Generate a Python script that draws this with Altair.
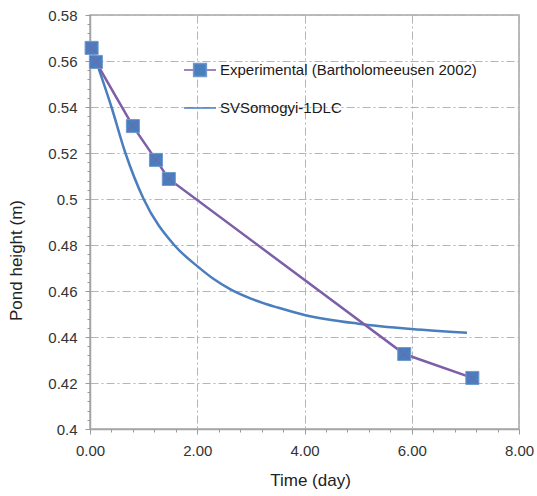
import altair as alt
import pandas as pd

exp_label = "Experimental (Bartholomeeusen 2002)"
marker_key = "Experimental markers"
model_label = "SVSomogyi-1DLC"

exp_day = [0.03, 0.11, 0.80, 1.23, 1.47, 5.86, 7.13]
exp_h = [0.5657, 0.5596, 0.5317, 0.5170, 0.5087, 0.4326, 0.4222]

model_day = [0.12, 0.40, 0.66, 1.00, 1.57, 2.00, 2.30, 2.62, 3.00, 3.50, 4.00, 5.00,
             6.00, 7.03]
model_h = [0.5595, 0.5400, 0.5200, 0.5000, 0.4800, 0.4708, 0.4653, 0.4607, 0.4567,
           0.4528, 0.4496, 0.4458, 0.4435, 0.4419]

x_ticks = [0, 2, 4, 6, 8]
x_minor = [0.4, 0.8, 1.2, 1.6, 2.4, 2.8, 3.2, 3.6, 4.4, 4.8, 5.2, 5.6, 6.4, 6.8, 7.2, 7.6]
y_ticks = [0.40, 0.42, 0.44, 0.46, 0.48, 0.50, 0.52, 0.54, 0.56, 0.58]
y_minor = [round(0.40 + 0.004 * i, 3) for i in range(46)]

df_exp = pd.DataFrame({"day": exp_day, "h": exp_h, "series": exp_label, "mk": marker_key})
df_mod = pd.DataFrame({"day": model_day, "h": model_h, "series": model_label})

FONT = "Liberation Sans"
PURPLE = "#7d5ea8"
BLUE = "#4a7ebd"
GRID_DASH = [8, 3, 2, 3]

x_scale = alt.Scale(domain=[0, 8], nice=False, zero=False)
y_scale = alt.Scale(domain=[0.4, 0.58], nice=False, zero=False)

x_main = alt.Axis(values=x_ticks, format=".2f", title="Time (day)", orient="bottom",
                  grid=True, gridColor="#b5b5b5", gridDash=GRID_DASH, gridWidth=1,
                  tickSize=5, tickColor="#9a9a9a", domainColor="#a6a6a6", domainWidth=1.5,
                  labelFont=FONT, labelFontSize=15, labelColor="#333333", labelPadding=9,
                  labelFlush=False, labelOverlap=False,
                  titleFont=FONT, titleFontSize=17, titleFontWeight="normal",
                  titleColor="#222222", titleX=220, titleY=56, titleBaseline="alphabetic")
y_main = alt.Axis(values=y_ticks, format=".2~f", title="Pond height (m)", orient="left",
                  grid=True, gridColor="#b5b5b5", gridDash=GRID_DASH, gridWidth=1,
                  tickSize=5, tickColor="#9a9a9a", domainColor="#a6a6a6", domainWidth=1.5,
                  labelFont=FONT, labelFontSize=15, labelColor="#333333", labelPadding=8,
                  labelFlush=False, labelOverlap=False,
                  titleFont=FONT, titleFontSize=17, titleFontWeight="normal",
                  titleColor="#222222", titleX=-69, titleY=245, titleAngle=270,
                  titleBaseline="alphabetic", titleAlign="center")
x_min_axis = alt.Axis(values=x_minor, orient="bottom", labels=False, grid=False,
                      domain=False, tickSize=3, tickColor="#9a9a9a", title=None)
y_min_axis = alt.Axis(values=y_minor, orient="left", labels=False, grid=False,
                      domain=False, tickSize=3, tickColor="#9a9a9a", title=None)

leg_common = dict(orient="none", title=None, padding=0, offset=0, labelFont=FONT,
                  labelFontSize=15, labelColor="#1a1a1a", labelOffset=3, labelLimit=400,
                  symbolSize=1024)

model_line = alt.Chart(df_mod).mark_line(strokeWidth=2.5, interpolate="monotone").encode(
    x=alt.X("day:Q", scale=x_scale, axis=x_main),
    y=alt.Y("h:Q", scale=y_scale, axis=y_main),
    stroke=alt.Stroke("series:N", scale=alt.Scale(domain=[model_label], range=[BLUE]),
                      legend=alt.Legend(legendX=93, legendY=76, symbolType="stroke",
                                        **leg_common)),
)

exp_line = alt.Chart(df_exp).mark_line(strokeWidth=2.5).encode(
    x=alt.X("day:Q", scale=x_scale, axis=x_min_axis),
    y=alt.Y("h:Q", scale=y_scale, axis=y_min_axis),
    color=alt.Color("series:N", scale=alt.Scale(domain=[exp_label], range=[PURPLE]),
                    legend=alt.Legend(legendX=93, legendY=38, symbolType="stroke",
                                      **leg_common)),
)

exp_pts = alt.Chart(df_exp).mark_point(shape="square", filled=True, size=170, opacity=1,
                                       stroke="#6f9ad0", strokeWidth=1).encode(
    x=alt.X("day:Q", scale=x_scale, axis=None),
    y=alt.Y("h:Q", scale=y_scale, axis=None),
    fill=alt.Fill("mk:N", scale=alt.Scale(domain=[marker_key], range=[BLUE]),
                  legend=alt.Legend(legendX=93, legendY=38,
                                    symbolType="M-0.4,-0.4L0.4,-0.4L0.4,0.4L-0.4,0.4Z",
                                    labelExpr="''", **leg_common)),
)

exp_x = alt.Chart(df_exp).mark_point(shape="M-1,-1L1,1M-1,1L1,-1", filled=False, size=130,
                                     stroke=PURPLE, strokeWidth=1, opacity=0.75).encode(
    x=alt.X("day:Q", scale=x_scale, axis=None),
    y=alt.Y("h:Q", scale=y_scale, axis=None),
)

chart = alt.layer(model_line, exp_line, exp_pts, exp_x).resolve_axis(
    x="independent", y="independent"
).properties(
    width=429, height=414,
    autosize=alt.AutoSizeParams(type="none"),
    padding={"left": 90, "top": 15, "right": 18, "bottom": 67},
    background="white",
).configure_view(stroke="#a6a6a6", strokeWidth=1.5)

chart.save("out.html", embed_options={"renderer": "svg", "actions": False})
